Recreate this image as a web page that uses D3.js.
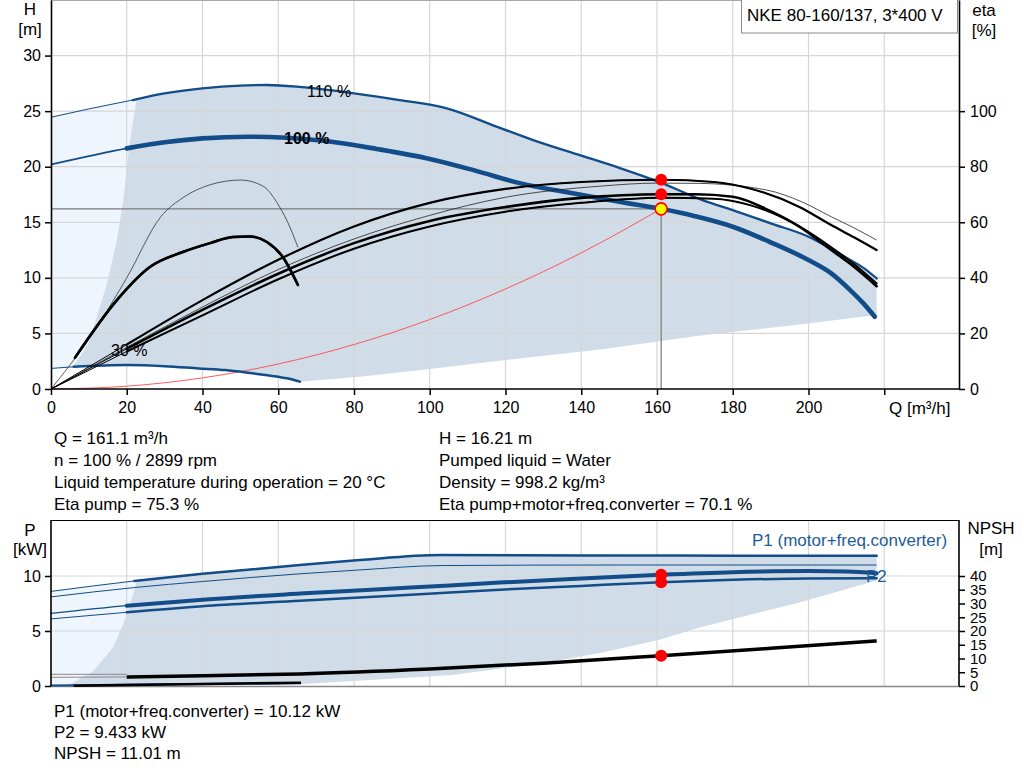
<!DOCTYPE html>
<html>
<head>
<meta charset="utf-8">
<script src="https://cdn.jsdelivr.net/npm/d3@7"></script>
<style>
  body { margin: 0; background: #fff; }
  svg text { font-family: "Liberation Sans", Arial, sans-serif; }
</style>
</head>
<body>
<svg id="chart" width="1024" height="781"></svg>
<script>
// ---- data ----
const qTicks = [0, 20, 40, 60, 80, 100, 120, 140, 160, 180, 200, 220];
const hTicks = [0, 5, 10, 15, 20, 25, 30];
const etaTicks = [0, 20, 40, 60, 80, 100];
const pTicks = [0, 5, 10];
const npshTicks = [0, 5, 10, 15, 20, 25, 30, 35, 40];

// head curves [Q m3/h, H m]
const head110 = [[0,24.45],[10,25.2],[21.6,26.0],[30,26.6],[40,27.05],[50,27.3],[57,27.35],[65,27.2],[72,26.95],[80,26.6],[92,26.0],[104,25.3],[118.5,23.5],[127.3,22.4],[140,21.0],[150,19.9],[160,18.7],[172,17.0],[180,16.1],[190,14.9],[200,13.7],[206,12.6],[211,11.6],[214.5,10.9],[218,9.95]];
const head100 = [[0,20.2],[10,20.95],[20,21.65],[30,22.2],[40,22.55],[52,22.7],[62,22.6],[74,22.25],[86,21.6],[100,20.7],[112,19.65],[124,18.5],[137,17.65],[150,16.85],[161.1,16.21],[170,15.55],[180,14.6],[190,13.2],[200,11.6],[206,10.4],[211,8.9],[214.5,7.7],[217.5,6.5]];
const head30 = [[0,1.85],[6,2.0],[20,2.15],[30,2.05],[39,1.85],[46,1.7],[52,1.47],[58,1.2],[62.3,0.96],[65.7,0.66]];
const systemCurve = [[0,0],[20,0.25],[40,1.0],[60,2.25],[80,4.0],[100,6.25],[120,9.0],[140,12.25],[161.1,16.21]];
const areaLeftH = [[5.8,2.0],[7.7,2.9],[10.3,4.4],[12.1,6.5],[14.8,9.5],[17.4,13.4],[19.1,17.0],[20.3,20.8],[21.4,23.5],[22.6,26.05]];
const areaLowerH = [[65.7,0.66],[81.5,1.1],[100,1.8],[120,2.6],[145,3.55],[171,4.8],[197.6,5.8],[218,6.65]];

// efficiency curves [Q, eta %]
const etaPump = [[0,0],[10,8],[20,16],[40,32],[60,46.5],[80,58.5],[100,67],[120,72],[140,74.5],[161.1,75.3],[175,74.5],[185,72],[197.6,65.5],[206,59],[212,54.6],[218,50]];
const etaPumpThin = [[0,0],[10,7.5],[20,15],[40,29.5],[60,43],[80,54],[100,62.5],[120,69],[145,73],[160,74.1],[171,74],[189,71.6],[198,67.5],[206,62],[212,58],[218,53.6]];
const etaTotal = [[0,0],[10,7.2],[20,14.5],[40,28.5],[60,41.5],[80,52.5],[100,60.5],[120,65.5],[140,68.8],[161.1,70.1],[170,70.1],[180,69.2],[190,64],[197.6,58.4],[206,50],[212,44],[218,37]];
const etaTotalLow = [[0,0],[10,6.7],[20,13.5],[40,26.5],[60,39.5],[80,50.5],[100,58.5],[120,63.8],[140,67],[161.1,68.8],[175,68.5],[185,66],[197.6,58.5],[206,51],[212,45],[218,38]];
const eta30 = [[6.3,11.2],[17.4,32],[26.1,43.9],[34.8,49.3],[42,52.5],[48,54.7],[52.5,54.9],[57,52.9],[61.2,47.5],[65.2,37.4]];
const eta30Thin = [[0,0],[10,18],[20,40],[29,62],[35,69],[42,73.5],[50,75.2],[56,73],[59.7,67],[62.5,60],[65.2,51]];

// power curves [Q, P kW]
const p1Max = [[0,8.6],[22,9.55],[40,10.2],[65.7,11.0],[81.5,11.45],[103,11.9],[140,11.87],[180,11.85],[218,11.83]];
const p2Max = [[0,8.1],[22,8.95],[40,9.5],[65.7,10.2],[81.5,10.55],[103,10.95],[150,11.0],[218,11.0]];
const p1Duty = [[0,6.6],[20,7.3],[40,7.85],[65.7,8.4],[95,8.95],[118.5,9.4],[140,9.78],[161.1,10.12],[180,10.35],[200,10.45],[210,10.4],[218,10.25]];
const p2Duty = [[0,6.1],[20,6.7],[40,7.25],[65.7,7.75],[95,8.3],[118.5,8.75],[140,9.1],[161.1,9.433],[180,9.65],[200,9.78],[218,9.8]];
const p30Blue = [[0,0.05],[30,0.15],[66,0.25]];
const p30Black = [[6,0.02],[66,0.3]];
const areaLeftP = [[4.2,0],[11,1.3],[16.4,3.5],[20.1,6.5],[22.7,9.6]];
const areaLowerP = [[4.2,0],[40,0.03],[65.7,0.15],[106,1.0],[130,2.1],[145,3.0],[160.7,4.2],[171,5.3],[197.6,7.6],[218,9.6]];

// NPSH [Q, m]
const npsh = [[20,3.3],[40,3.7],[65.7,4.4],[100,6.2],[130,8.3],[161.1,11.01],[190,13.7],[218,16.4]];
const npshLeftA = [[0,4.25],[20,4.25]];
const npshLeftB = [[0,3.15],[20,3.3]];

const duty = { q: 161.1, h: 16.21, etaP: 75.3, etaT: 70.1, p1: 10.12, p2: 9.433, npsh: 11.01 };

const infoLeft = ["Q = 161.1 m³/h", "n = 100 % / 2899 rpm", "Liquid temperature during operation = 20 °C", "Eta pump = 75.3 %"];
const infoRight = ["H = 16.21 m", "Pumped liquid = Water", "Density = 998.2 kg/m³", "Eta pump+motor+freq.converter = 70.1 %"];
const infoBottom = ["P1 (motor+freq.converter) = 10.12 kW", "P2 = 9.433 kW", "NPSH = 11.01 m"];

// ---- drawing ----
const blue = "#124d89";
const darkFill = "#d0dce8";
const lightFill = "#eef5fc";
const gridCol = "#d6d6d6";
const textSize = 17;

const svg = d3.select("#chart");
const x = d3.scaleLinear().domain([0, 240]).range([51, 960]);
const yH = d3.scaleLinear().domain([0, 35]).range([389, 0]);
const yEta = d3.scaleLinear().domain([0, 140]).range([389, 0]);
const yP = d3.scaleLinear().domain([0, 15]).range([686, 521]);
const yN = d3.scaleLinear().domain([0, 60]).range([686, 521]);

function lineFor(yScale, curve) {
    return d3.line().x(d => x(d[0])).y(d => yScale(d[1])).curve(curve || d3.curveMonotoneX);
}

function drawCurve(g, data, yScale, split, thinW, thickW, color) {
    g.append("path").datum(data).attr("d", lineFor(yScale))
        .attr("fill", "none").attr("stroke", color).attr("stroke-width", thinW);
    if (split != null) {
        g.append("path").datum(data.filter(d => d[0] >= split)).attr("d", lineFor(yScale))
            .attr("fill", "none").attr("stroke", color).attr("stroke-width", thickW)
            .attr("stroke-linecap", "round");
    }
}

function styleAxis(g, size) {
    g.selectAll("text").attr("font-size", size || 16).attr("fill", "#000")
        .attr("font-family", "'Liberation Sans', Arial, sans-serif");
    g.selectAll("line").attr("stroke", "#000").attr("stroke-width", 1.5);
    g.select(".domain").attr("stroke", "#000").attr("stroke-width", 1.6);
}

// ===== top chart =====
const topG = svg.append("g");

const lightPoly = head110.filter(d => d[0] <= 22.6).concat([[22.6, 26.05], [22.6, 2.1]])
    .concat(head30.filter(d => d[0] <= 22.6).reverse());
topG.append("path").datum(lightPoly).attr("d", lineFor(yH, d3.curveLinear)).attr("fill", lightFill);

const darkPoly = areaLeftH
    .concat(head110.filter(d => d[0] > 22.6))
    .concat(areaLowerH.slice().reverse())
    .concat(head30.filter(d => d[0] >= 5.8).reverse());
topG.append("path").datum(darkPoly).attr("d", lineFor(yH, d3.curveLinear)).attr("fill", darkFill);

// grid
topG.append("g").selectAll("line").data(qTicks.slice(1)).join("line")
    .attr("x1", d => x(d)).attr("x2", d => x(d)).attr("y1", 0).attr("y2", 389)
    .attr("stroke", gridCol).attr("stroke-width", 1.2);
topG.append("g").selectAll("line").data(hTicks.slice(1)).join("line")
    .attr("x1", 51).attr("x2", 959).attr("y1", d => yH(d)).attr("y2", d => yH(d))
    .attr("stroke", gridCol).attr("stroke-width", 1.2);
topG.append("line").attr("x1", 51).attr("x2", 959).attr("y1", 0.5).attr("y2", 0.5).attr("stroke", "#a8a8a8");

// operating point guide lines
topG.append("line").attr("x1", x(0)).attr("x2", x(duty.q)).attr("y1", yH(duty.h)).attr("y2", yH(duty.h))
    .attr("stroke", "#7a7a7a").attr("stroke-width", 1.2);
topG.append("line").attr("x1", x(duty.q)).attr("x2", x(duty.q)).attr("y1", yH(duty.h)).attr("y2", 389)
    .attr("stroke", "#7a7a7a").attr("stroke-width", 1.2);

// system curve
topG.append("path").datum(systemCurve).attr("d", lineFor(yH))
    .attr("fill", "none").attr("stroke", "#ff4a4a").attr("stroke-width", 0.9);

// head curves
drawCurve(topG, head110, yH, 21.6, 1, 2.3, blue);
drawCurve(topG, head100, yH, 20, 1.8, 4.6, blue);
drawCurve(topG, head30, yH, 6, 1, 2.5, blue);

// efficiency curves
drawCurve(topG, eta30Thin, yEta, null, 0.8, 0, "#333");
drawCurve(topG, eta30, yEta, 6.3, 2.5, 2.5, "#000");
drawCurve(topG, etaPumpThin, yEta, null, 0.8, 0, "#222");
drawCurve(topG, etaTotalLow, yEta, 20, 1, 2, "#000");
drawCurve(topG, etaTotal, yEta, 20, 1, 2.6, "#000");
drawCurve(topG, etaPump, yEta, 20, 1, 2.2, "#000");

// labels on curves
topG.append("text").attr("x", 307).attr("y", 97).attr("font-size", 16).text("110 %");
topG.append("text").attr("x", 284).attr("y", 144).attr("font-size", 16).attr("font-weight", "bold").text("100 %");
topG.append("text").attr("x", 111).attr("y", 356).attr("font-size", 16).text("30 %");

// duty points
topG.append("circle").attr("cx", x(duty.q)).attr("cy", yEta(duty.etaP)).attr("r", 6).attr("fill", "#ff0000");
topG.append("circle").attr("cx", x(duty.q)).attr("cy", yEta(duty.etaT)).attr("r", 6).attr("fill", "#ff0000");
topG.append("circle").attr("cx", x(duty.q)).attr("cy", yH(duty.h)).attr("r", 6)
    .attr("fill", "#ffff00").attr("stroke", "#ff0000").attr("stroke-width", 1.6);

// axes
topG.append("g").attr("transform", "translate(51,0)")
    .call(d3.axisLeft(yH).tickValues(hTicks).tickSize(6).tickPadding(4).tickSizeOuter(0))
    .call(styleAxis);
topG.append("g").attr("transform", "translate(959,0)")
    .call(d3.axisRight(yEta).tickValues(etaTicks).tickSize(6).tickPadding(5).tickSizeOuter(0))
    .call(styleAxis);
topG.append("g").attr("transform", "translate(0,389)")
    .call(d3.axisBottom(x).tickValues(qTicks).tickSize(6).tickPadding(7).tickSizeOuter(0)
        .tickFormat(d => d === 220 ? "" : d))
    .call(styleAxis)
    .call(g => g.select(".domain").attr("d", "M51,0H959"));

topG.append("text").attr("x", 30).attr("y", 15).attr("text-anchor", "middle").attr("font-size", textSize).text("H");
topG.append("text").attr("x", 30).attr("y", 35).attr("text-anchor", "middle").attr("font-size", textSize).text("[m]");
topG.append("text").attr("x", 984).attr("y", 16).attr("text-anchor", "middle").attr("font-size", textSize).text("eta");
topG.append("text").attr("x", 984).attr("y", 36).attr("text-anchor", "middle").attr("font-size", textSize).text("[%]");
topG.append("text").attr("x", 889).attr("y", 414).attr("font-size", textSize).text("Q [m³/h]");

// title box
topG.append("rect").attr("x", 741.5).attr("y", -1).attr("width", 216).attr("height", 34)
    .attr("fill", "#fff").attr("stroke", "#8a8a8a").attr("stroke-width", 1);
topG.append("text").attr("x", 747).attr("y", 21).attr("font-size", textSize).text("NKE 80-160/137, 3*400 V");

// info texts
svg.append("g").selectAll("text").data(infoLeft).join("text")
    .attr("x", 54).attr("y", (d, i) => 444 + i * 22).attr("font-size", textSize).text(d => d);
svg.append("g").selectAll("text").data(infoRight).join("text")
    .attr("x", 439).attr("y", (d, i) => 444 + i * 22).attr("font-size", textSize).text(d => d);
svg.append("g").selectAll("text").data(infoBottom).join("text")
    .attr("x", 54).attr("y", (d, i) => 717 + i * 21).attr("font-size", textSize).text(d => d);

// ===== bottom chart =====
const botG = svg.append("g");

const lightP = [[0, 0], [0, 8.6], [22.7, 9.6], [22.7, 0]];
botG.append("path").datum(lightP).attr("d", lineFor(yP, d3.curveLinear)).attr("fill", lightFill);
const darkP = areaLeftP
    .concat(p1Max.filter(d => d[0] > 22.7))
    .concat(areaLowerP.slice().reverse());
botG.append("path").datum(darkP).attr("d", lineFor(yP, d3.curveLinear)).attr("fill", darkFill);

botG.append("g").selectAll("line").data(qTicks.slice(1)).join("line")
    .attr("x1", d => x(d)).attr("x2", d => x(d)).attr("y1", 521).attr("y2", 686)
    .attr("stroke", gridCol).attr("stroke-width", 1.2);
botG.append("g").selectAll("line").data(pTicks.slice(1)).join("line")
    .attr("x1", 51).attr("x2", 959).attr("y1", d => yP(d)).attr("y2", d => yP(d))
    .attr("stroke", gridCol).attr("stroke-width", 1.2);
botG.append("line").attr("x1", 51).attr("x2", 959).attr("y1", 520.5).attr("y2", 520.5).attr("stroke", "#000").attr("stroke-width", 1.2);
botG.append("line").attr("x1", 51).attr("x2", 959).attr("y1", 686.5).attr("y2", 686.5).attr("stroke", "#888").attr("stroke-width", 1.5);

drawCurve(botG, p1Max, yP, 22, 1, 2.5, blue);
drawCurve(botG, p2Max, yP, null, 1, 0, blue);
drawCurve(botG, p2Duty, yP, 20, 1, 2.5, blue);
drawCurve(botG, p1Duty, yP, 20, 1.3, 4, blue);
drawCurve(botG, p30Blue, yP, null, 2, 0, blue);
drawCurve(botG, p30Black, yP, null, 2.5, 0, "#000");

drawCurve(botG, npshLeftA, yN, null, 1, 0, "#8a8a8a");
drawCurve(botG, npshLeftB, yN, null, 1, 0, "#8a8a8a");
drawCurve(botG, npsh, yN, null, 3.5, 0, "#000");

botG.append("circle").attr("cx", x(duty.q)).attr("cy", yP(duty.p1)).attr("r", 6).attr("fill", "#ff0000");
botG.append("circle").attr("cx", x(duty.q)).attr("cy", yP(duty.p2)).attr("r", 6).attr("fill", "#ff0000");
botG.append("circle").attr("cx", x(duty.q)).attr("cy", yN(duty.npsh)).attr("r", 6).attr("fill", "#ff0000");

botG.append("g").attr("transform", "translate(51,0)")
    .call(d3.axisLeft(yP).tickValues(pTicks).tickSize(6).tickPadding(4).tickSizeOuter(0))
    .call(styleAxis)
    .call(g => g.select(".domain").attr("d", "M0,520V686"));
botG.append("g").attr("transform", "translate(959,0)")
    .call(d3.axisRight(yN).tickValues(npshTicks).tickSize(6).tickPadding(5).tickSizeOuter(0))
    .call(g => styleAxis(g, 15))
    .call(g => g.select(".domain").attr("d", "M0,520V686"));

botG.append("text").attr("x", 30).attr("y", 536).attr("text-anchor", "middle").attr("font-size", textSize).text("P");
botG.append("text").attr("x", 30).attr("y", 555).attr("text-anchor", "middle").attr("font-size", textSize).text("[kW]");
botG.append("text").attr("x", 991).attr("y", 534).attr("text-anchor", "middle").attr("font-size", textSize).text("NPSH");
botG.append("text").attr("x", 991).attr("y", 555).attr("text-anchor", "middle").attr("font-size", textSize).text("[m]");
botG.append("text").attr("x", 752).attr("y", 546).attr("font-size", textSize).attr("fill", "#1d5c97").text("P1 (motor+freq.converter)");
botG.append("text").attr("x", 866).attr("y", 582).attr("font-size", textSize).attr("fill", "#1d5c97").text("P2");
</script>
</body>
</html>
